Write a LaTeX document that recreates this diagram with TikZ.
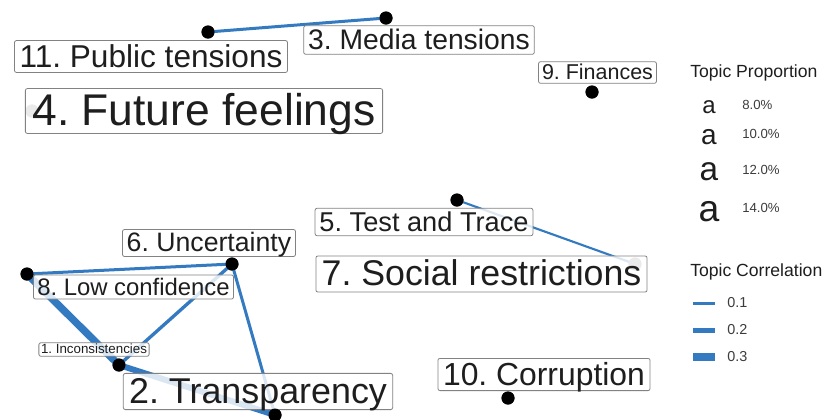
\documentclass[tikz,border=0pt]{standalone}
\usepackage{fontspec}
\setmainfont{Liberation Sans}
\usetikzlibrary{calc}
\definecolor{edgeblue}{RGB}{52,122,192}
\definecolor{boxgray}{RGB}{130,130,130}
\definecolor{txt}{RGB}{30,30,30}
\definecolor{legtxt}{RGB}{60,60,60}
\frenchspacing
\begin{document}
\frenchspacing
\begin{tikzpicture}[x=0.75pt, y=-0.75pt,
  lab/.style={draw=boxgray, line width=0.6pt, rounded corners=1.5pt, fill=white,
    fill opacity=0.82, text opacity=1, text=txt, font=\fontsize{#1}{#1}\selectfont,
    inner xsep=0.16*#1, inner ysep=0pt, text height=0.84*#1, text depth=0.17*#1},
  dot/.style={circle, fill=black, inner sep=0pt, minimum size=9.75pt},
  gdot/.style={circle, fill=black!45, inner sep=0pt, minimum size=9.75pt},
  edge/.style={draw=edgeblue, line width=#1},
  legtitle/.style={anchor=west, inner sep=0pt, text=txt, font=\fontsize{13.2pt}{14pt}\selectfont},
  legkey/.style={inner sep=0pt, text=txt, font=\fontsize{#1}{#1}\selectfont},
  leglab/.style={anchor=west, inner sep=0pt, text=legtxt, font=\fontsize{#1}{#1}\selectfont}
]
\useasboundingbox (0,0) rectangle (826,419);

% dots (positions)
\node[dot] (d11) at (208,32) {};
\node[dot] (d3) at (386,18) {};
\node[dot] (d9) at (592,92) {};
\node[gdot] (d4) at (32,111) {};
\node[dot] (d5) at (457,200) {};
\node[gdot] (d7) at (635,264) {};
\node[dot] (d6) at (232,264) {};
\node[dot] (d8) at (27,274) {};
\node[dot] (d1) at (119,365) {};
\node[dot] (d2) at (275,415) {};
\node[dot] (d10) at (508,398) {};

% edges
\draw[edge=2.25pt] (d11.center) -- (d3.center);
\draw[edge=1.6pt] (d5.center) -- (d7.center);
\draw[edge=2.25pt] (d6.center) -- (d8.center);
\draw[edge=2.25pt] (d6.center) -- (d2.center);
\draw[edge=2.5pt] (d6.center) -- (d1.center);
\draw[edge=5.5pt] (d8.center) -- (d1.center);
\draw[edge=4.5pt] (d1.center) -- (d2.center);

% gray dots under labels
\node[gdot] at (d4) {};
\node[gdot] at (d7) {};

% labels
\node[lab=23.7pt] (l11) at (151,56.5) {11. Public tensions};
\node[lab=21.2pt] (l3) at (419,40) {3. Media tensions};
\node[lab=16.1pt] (l9) at (597.5,72.5) {9. Finances};
\node[lab=33.3pt] (l4) at (204,111) {4. Future feelings};
\node[lab=20.4pt] (l5) at (424,222) {5. Test and Trace};
\node[lab=26.8pt] (l7) at (481.5,274) {7. Social restrictions};
\node[lab=20pt] (l6) at (209,243) {6. Uncertainty};
\node[lab=17.9pt] (l8) at (133.5,287) {8. Low confidence};
\node[lab=10pt] (l1) at (94,349.5) {1. Inconsistencies};
\node[lab=26.9pt] (l2) at (258,391.5) {2. Transparency};
\node[lab=23.9pt] (l10) at (544,374.5) {10. Corruption};

% black dots on top
\foreach \n in {d11,d3,d9,d5,d6,d8,d1,d2,d10} \node[dot] at (\n) {};

% legend: topic proportion
\node[legtitle] (tp) at (690,73) {Topic Proportion};
\node[legkey=18pt] (a1) at (709,107) {a};
\node[legkey=21pt] (a2) at (709,137) {a};
\node[legkey=25pt] (a3) at (709,172) {a};
\node[legkey=28pt] (a4) at (709,212) {a};
\node[leglab=9.9pt] (p1) at (742,105) {8.0\%};
\node[leglab=9.9pt] (p2) at (742,134) {10.0\%};
\node[leglab=9.9pt] (p3) at (742,170) {12.0\%};
\node[leglab=9.9pt] (p4) at (742,208) {14.0\%};

% legend: topic correlation
\node[legtitle] (tc) at (690,272) {Topic Correlation};
\coordinate (k1a) at (693,303); \coordinate (k1b) at (715,303);
\coordinate (k2a) at (693,330); \coordinate (k2b) at (715,330);
\coordinate (k3a) at (693,357); \coordinate (k3b) at (715,357);
\draw[edge=2.25pt] (k1a) -- (k1b);
\draw[edge=3.75pt] (k2a) -- (k2b);
\draw[edge=6pt] (k3a) -- (k3b);
\node[leglab=10.8pt] (c1) at (727,303) {0.1};
\node[leglab=10.8pt] (c2) at (727,330) {0.2};
\node[leglab=10.8pt] (c3) at (727,357) {0.3};
\end{tikzpicture}
\end{document}
